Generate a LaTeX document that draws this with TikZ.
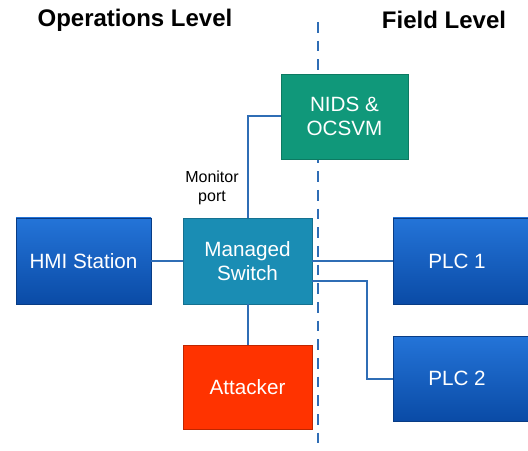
\documentclass[tikz,border=0pt]{standalone}
\usepackage{fontspec}
\setmainfont{Liberation Sans}
\usetikzlibrary{positioning, shadows}
\definecolor{plctop}{HTML}{2474D8}
\definecolor{plcbot}{HTML}{0A4BA6}
\definecolor{swcol}{HTML}{1A8DB4}
\definecolor{idscol}{HTML}{10987A}
\definecolor{atkcol}{HTML}{FF3300}
\definecolor{wirecol}{HTML}{2F6DB5}
\tikzset{
    box/.style={rectangle, minimum width=96.75pt, minimum height=64.5pt, text=white, font=\fontsize{15.5}{18}\selectfont, align=center, drop shadow={shadow xshift=1pt, shadow yshift=-1pt, opacity=0.25}},
    plcbox/.style={box, top color=plctop, bottom color=plcbot, draw=plcbot!80!black, line width=0.4pt},
    wire/.style={draw=wirecol, line width=1.5pt},
    level/.style={font=\bfseries\fontsize{18}{21}\selectfont}
}
\begin{document}
\begin{tikzpicture}[x=0.75pt, y=0.75pt]
    \useasboundingbox (0,0) rectangle (528,450);
    \clip (0,0) rectangle (528,450);
    % headings
    \node[level] (ops) at (135,430) {Operations Level};
    \node[level] (fld) at (444,430) {Field Level};
    % boundary
    \coordinate (btop) at (318,428);
    \coordinate (bbot) at (318,0);
    \draw[wirecol, line width=1.5pt, dash pattern=on 8pt off 6pt] (btop) -- (bbot);
    % devices
    \node[plcbox, minimum width=101.25pt] (hmi) at (83.5,189) {HMI Station};
    \node[box, fill=swcol, draw=swcol!80!black] (sw) at (247.5,189) {Managed\\Switch};
    \node[box, fill=atkcol, draw=atkcol!75!black, minimum height=63pt] (atk) at (247.5,63) {Attacker};
    \node[box, fill=idscol, draw=idscol!80!black, minimum width=95.25pt, minimum height=63.75pt] (nids) at (344.5,333.5) {NIDS \&\\OCSVM};
    \node[plcbox, minimum width=112.5pt] (plc1) at (468,189) {PLC 1\hspace*{16.5pt}};
    \node[plcbox, minimum width=112.5pt, minimum height=63.75pt] (plc2) at (468,71.5) {PLC 2\hspace*{16.5pt}};
    \node[font=\fontsize{12}{14}\selectfont, align=center] (mon) at (212,262) {Monitor\\port};
    % links
    \draw[wire] (hmi) -- (sw);
    \draw[wire] (sw.east |- plc1.west) -- (plc1);
    \draw[wire] (sw.north) |- (nids.west);
    \draw[wire] (sw) -- (atk);
    \draw[wire] ([yshift=-15pt]sw.east) -| (367,71) -- (plc2.west |- 0,71);
\end{tikzpicture}
\end{document}
